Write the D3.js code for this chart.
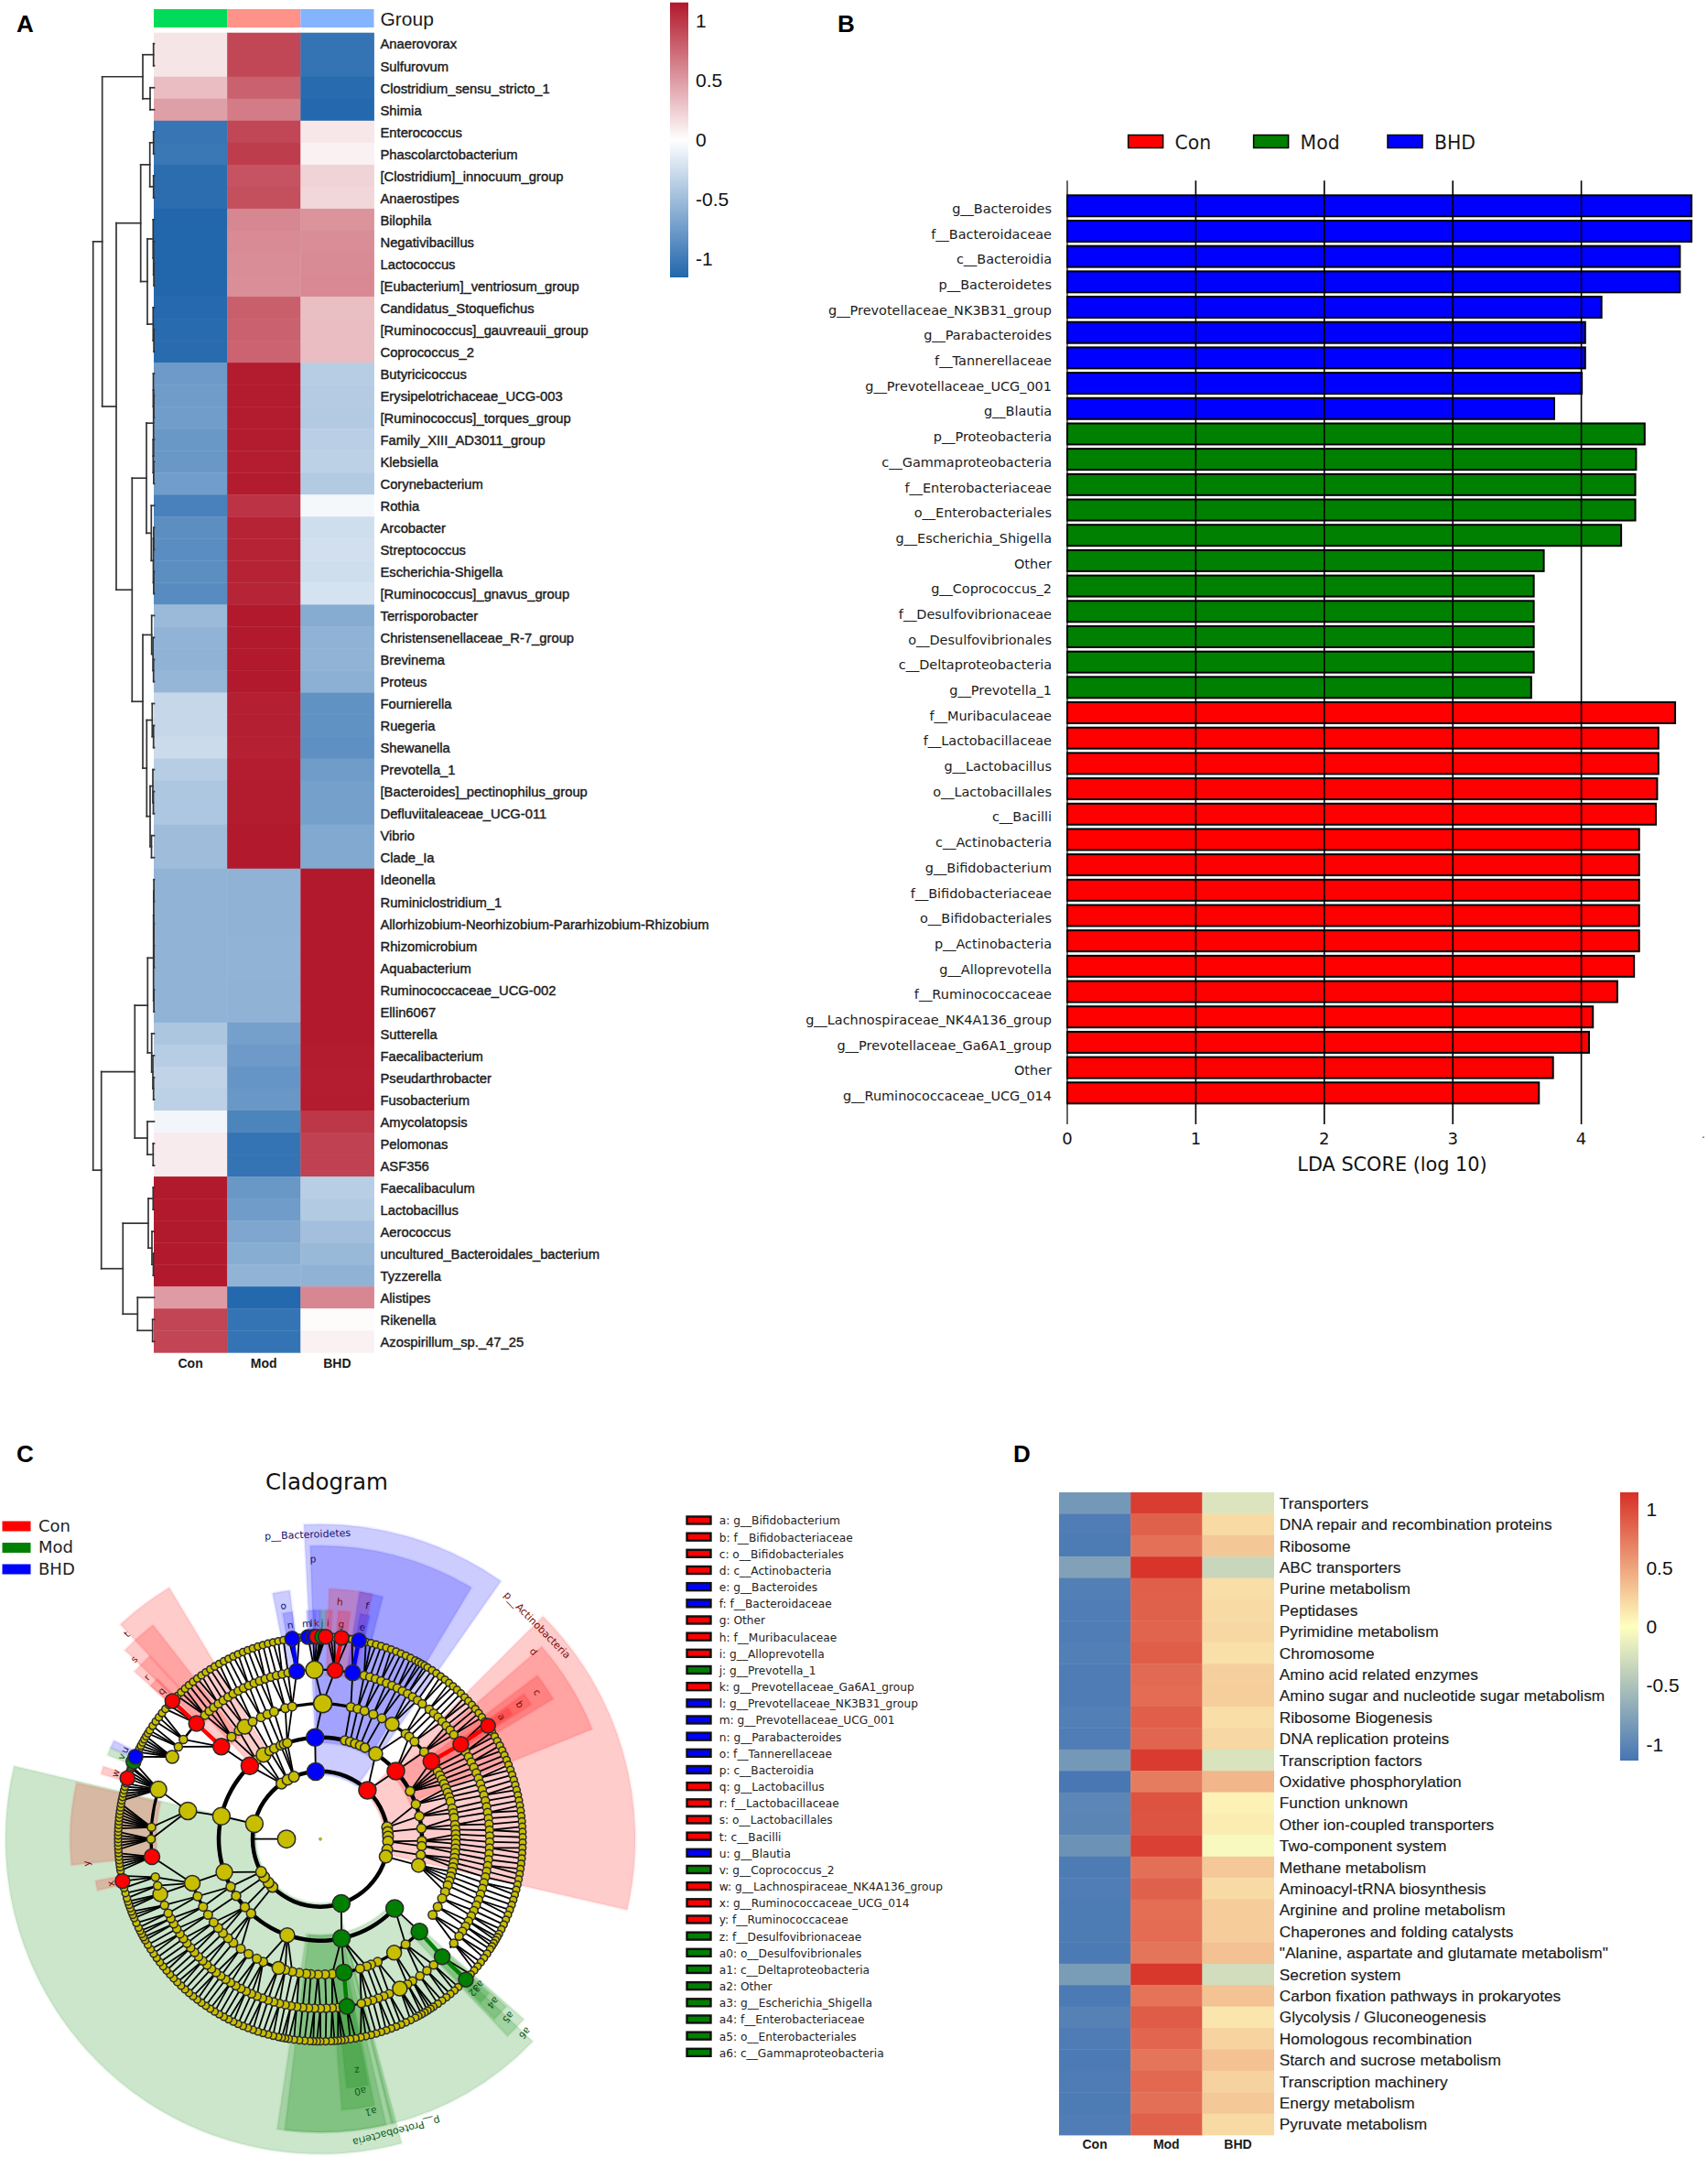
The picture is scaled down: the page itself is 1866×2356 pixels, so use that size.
<!DOCTYPE html>
<html><head><meta charset="utf-8">
<script src="https://cdn.jsdelivr.net/npm/d3@7/dist/d3.min.js"></script>
<style>html,body{margin:0;padding:0;background:#fff}svg{display:block}</style></head>
<body><svg id="c" width="1866" height="2356"></svg>
<script>
// ---------- Panel A data ----------
const groupsA = ["Con","Mod","BHD"];
const taxaA = ["Anaerovorax","Sulfurovum","Clostridium_sensu_stricto_1","Shimia","Enterococcus","Phascolarctobacterium","[Clostridium]_innocuum_group","Anaerostipes","Bilophila","Negativibacillus","Lactococcus","[Eubacterium]_ventriosum_group","Candidatus_Stoquefichus","[Ruminococcus]_gauvreauii_group","Coprococcus_2","Butyricicoccus","Erysipelotrichaceae_UCG-003","[Ruminococcus]_torques_group","Family_XIII_AD3011_group","Klebsiella","Corynebacterium","Rothia","Arcobacter","Streptococcus","Escherichia-Shigella","[Ruminococcus]_gnavus_group","Terrisporobacter","Christensenellaceae_R-7_group","Brevinema","Proteus","Fournierella","Ruegeria","Shewanella","Prevotella_1","[Bacteroides]_pectinophilus_group","Defluviitaleaceae_UCG-011","Vibrio","Clade_Ia","Ideonella","Ruminiclostridium_1","Allorhizobium-Neorhizobium-Pararhizobium-Rhizobium","Rhizomicrobium","Aquabacterium","Ruminococcaceae_UCG-002","Ellin6067","Sutterella","Faecalibacterium","Pseudarthrobacter","Fusobacterium","Amycolatopsis","Pelomonas","ASF356","Faecalibaculum","Lactobacillus","Aerococcus","uncultured_Bacteroidales_bacterium","Tyzzerella","Alistipes","Rikenella","Azospirillum_sp._47_25"];
const conA = [.13,.13,.33,.48,-1.04,-1.03,-1.1,-1.1,-1.15,-1.15,-1.15,-1.15,-1.13,-1.12,-1.12,-.76,-.75,-.74,-.78,-.78,-.74,-.95,-.85,-.86,-.85,-.87,-.52,-.57,-.58,-.55,-.3,-.3,-.27,-.38,-.42,-.42,-.5,-.5,-.57,-.57,-.57,-.57,-.57,-.57,-.57,-.43,-.38,-.33,-.35,-.07,.1,.1,1.15,1.15,1.15,1.15,1.15,.5,.93,.93];
const modA = [.92,.92,.79,.66,.92,.97,.86,.88,.6,.58,.57,.56,.8,.79,.78,1.14,1.14,1.14,1.14,1.13,1.14,1.02,1.1,1.1,1.1,1.09,1.15,1.15,1.15,1.15,1.12,1.12,1.11,1.13,1.14,1.14,1.15,1.15,-.58,-.58,-.58,-.57,-.57,-.58,-.58,-.72,-.76,-.8,-.78,-.93,-1.05,-1.05,-.78,-.75,-.67,-.62,-.57,-1.14,-1.05,-1.05];
const bhdA = [-1.05,-1.05,-1.12,-1.14,.12,.07,.22,.2,.54,.57,.58,.59,.32,.33,.33,-.38,-.39,-.4,-.36,-.35,-.4,-.05,-.25,-.24,-.25,-.22,-.63,-.58,-.57,-.6,-.82,-.82,-.84,-.75,-.72,-.72,-.65,-.65,1.15,1.15,1.15,1.15,1.15,1.15,1.15,1.15,1.14,1.13,1.14,1.0,.95,.95,-.37,-.4,-.48,-.53,-.58,.6,.02,.07];
const ticksA = [1,.5,0,-.5,-1];
// dendrogram: [merge height, left, right]; plain numbers are row numbers
const dendroA = [66.8,
 [56.8,
  [12.5,[.8,1,2],[4.5,3,4]],
  [41.5,
   [14.8,[4.8,[.8,5,6],[.8,7,8]],[7.5,[1.2,9,[.8,10,[.4,11,12]]],[1.2,13,[.4,14,15]]]],
   [24.2,
    [8.5,[.8,[1,16,[.5,17,18]],[1.2,19,[.6,20,21]]],[3.2,22,[1,[.6,23,24],[.6,25,26]]]],
    [12.5,[2.8,27,[1.4,28,[.8,29,30]]],[8.2,[2.2,31,[.8,32,33]],[4.5,[1.5,34,[1,35,36]],[3,37,38]]]]]]],
 [57.8,
  [21.2,
   [7.2,[.8,[.6,[.4,39,40],[.5,41,[.3,42,43]]],[.4,44,45]],[2.8,46,[1.5,47,[.8,48,49]]]],
   [7.5,50,[1.2,51,52]]],
  [34.2,
   [6.5,[1.2,53,54],[2.5,55,[1,56,57]]],
   [18.2,58,[1.8,59,60]]]]];

// ---------- Panel B data ----------
const featuresB = ["g__Bacteroides","f__Bacteroidaceae","c__Bacteroidia","p__Bacteroidetes","g__Prevotellaceae_NK3B31_group","g__Parabacteroides","f__Tannerellaceae","g__Prevotellaceae_UCG_001","g__Blautia","p__Proteobacteria","c__Gammaproteobacteria","f__Enterobacteriaceae","o__Enterobacteriales","g__Escherichia_Shigella","Other","g__Coprococcus_2","f__Desulfovibrionaceae","o__Desulfovibrionales","c__Deltaproteobacteria","g__Prevotella_1","f__Muribaculaceae","f__Lactobacillaceae","g__Lactobacillus","o__Lactobacillales","c__Bacilli","c__Actinobacteria","g__Bifidobacterium","f__Bifidobacteriaceae","o__Bifidobacteriales","p__Actinobacteria","g__Alloprevotella","f__Ruminococcaceae","g__Lachnospiraceae_NK4A136_group","g__Prevotellaceae_Ga6A1_group","Other","g__Ruminococcaceae_UCG_014"];
const scoresB = [4.857,4.857,4.767,4.767,4.157,4.03,4.03,4.004,3.789,4.493,4.426,4.42,4.42,4.31,3.708,3.63,3.63,3.63,3.63,3.61,4.73,4.6,4.6,4.59,4.58,4.45,4.45,4.45,4.45,4.45,4.41,4.28,4.09,4.06,3.78,3.67];
const classB = ["BHD","BHD","BHD","BHD","BHD","BHD","BHD","BHD","BHD","Mod","Mod","Mod","Mod","Mod","Mod","Mod","Mod","Mod","Mod","Mod","Con","Con","Con","Con","Con","Con","Con","Con","Con","Con","Con","Con","Con","Con","Con","Con"];
const ticksB = [0,1,2,3,4];
const classNames = ["Con","Mod","BHD"];

// ---------- Panel C data (angles in degrees clockwise from 12 o'clock) ----------
const ring1 = [80,84,88,92,99,105,225,230,236,241,283,325,331,337];
const ring2 = [14,17,20,23,26,33,62,70,77,84,91,94,99,105,199,223,228,236,242,251,283,321,326,330,333,337,339,341];
const ring3 = [1,13,16,19,23,27,32,39,41,44,50,58,60,62,64,66,68,70,72,74,77,79,81,84,86,88,90,92,94,96,98,100,102,104,106,108,110,113,116,120,124,141,147,155,158,160,163,175,178,181,184,186,189,192,195,198,205,208,212,216,220,223,226,229,232,236,240,245,251,282,319,323,326,330,334,337,340,345,348];
const ring4 = [358,15,17,19,21,23,25,27,29,31,33,35,37,40,42,44,46,48,50,52,59,61,63,65,67,69,71,73,75,77,79,81,83,85,87,89,91,93,95,97,99,101,103,105,107,109,111,113,115,117,119,121,123,125,128,138,141,144,147,149,152,156,158,160,162,164,166,174,176,178,180,182,184,186,188,190,192,194,196,198,200,202,204,206,208,210,212,214,216,218,220,222,224,226,228,230,232,234,236,238,240,242,244,247,251,254,257,270,274,287,299,303,306,317,319,321,323,325,327,329,331,333,335,337,339,341,343,345,347,349];
const ring5 = [0,1,2,3,4,8,9,13,14.5,16,17.5,19,20.5,22,23.5,25,26.5,28,29,30,31,32,33.5,35,36.5,38,39.5,41,42.5,44,45.5,47,48.5,50,51.5,53,54.5,58,59.5,61,62.5,64,65.5,67,68.5,70,71.5,73,74.5,76,77.5,79,80.5,82,83.5,85,86.5,88,89.5,91,92.5,94,95.5,97,98.5,100,101.5,103,104.5,106,107.5,109,110.5,112,113.5,115,116.5,118,119,120,121,122,123,124.5,126,127.5,129,130.5,132,137,138.5,140,141.5,143,144.5,146,147,148,149,150,151,152,153.5,155,156.5,158,159.5,161,162.5,164,165.5,167,168.5,170,171.5,173,174,175,176,177,178.5,180,181,182,183,184.5,186,187.5,189,190,191,192,193.5,195,196.5,198,199.5,201,202.5,204,205.5,207,208.5,210,211.5,213,214.5,216,217.5,219,220.5,222,223.5,225,226.5,228,229.5,231,232.5,234,235.5,237,238.5,240,241,242,243,244,245.5,247,248,249,250,251,252,253,254.5,256,259.5,261,262,263,264,265,266,267,268,269,270,271,272,273,274,275,276,277,278,279,280,281,282,283,284,285,286,288.5,289.5,290.5,291,295.5,296.5,297.5,298.5,299.5,300.5,301.5,302.5,304,305.5,307,308.5,310,311.5,315,316.5,318,319.5,321,322.5,324,325.5,327,328.5,330,331.5,333,334.5,336,337.5,339,340.5,342,343.5,345,346.5,348,349.5,351,354];
const yellowRings = [ring1,ring2,ring3,ring4,ring5];
// coloured biomarkers: [level, angle, class]
const biomarkers = [[1,356,"BHD"],[1,44,"Con"],[1,162,"Mod"],[2,357,"BHD"],[2,48,"Con"],[2,133,"Mod"],[2,168,"Mod"],[2,316,"Con"],[3,55,"Con"],[3,133,"Mod"],[3,170,"Mod"],[3,313,"Con"],[4,352,"BHD"],[4,5,"Con"],[4,11,"BHD"],[4,56,"Con"],[4,134,"Mod"],[4,171,"Mod"],[4,264,"Con"],[4,313,"Con"],[5,352,"BHD"],[5,356.5,"BHD"],[5,358,"BHD"],[5,359,"Con"],[5,.5,"Mod"],[5,1.5,"Con"],[5,6,"Con"],[5,11,"BHD"],[5,56,"Con"],[5,134,"Mod"],[5,258,"Con"],[5,287.5,"Con"],[5,292.5,"Mod"],[5,294,"BHD"],[5,313,"Con"]];
// larger yellow nodes: [level, angle, size]
const largeNodes = [[1,283,9.5],[2,283,9.5],[3,282,9.5],[4,287,9],[2,326,8],[3,326,8],[1,105,7],[2,105,7.5],[2,33,7.5],[3,32,7.5],[3,1,10],[4,358,9.5],[2,251,9],[3,251,8.5],[4,251,8],[2,199,8],[3,198,7],[3,147,8],[4,152,8],[4,299,7]];
// shaded clades: [from angle, to angle, level, class]
const cladeWedges = [[-3,35,1,"BHD"],[-2,31,2,"BHD"],[45,103,1,"Con"],[49,68,2,"Con"],[53,59,3,"Con"],[54.5,57.5,4,"Con"],[55,57,5,"Con"],[165,283.4,1,"Mod"],[133.6,166,2,"Mod"],[165.5,188.5,2,"Mod"],[167,187,2,"Mod"],[168.5,175.5,3,"Mod"],[169,174,4,"Mod"],[131.5,136.5,3,"Mod"],[132,136,4,"Mod"],[132.5,135.5,5,"Mod"],[264,283,4,"Con"],[317,329,2,"Con"],[314,322,3,"Con"],[312,317,4,"Con"],[312,314.5,5,"Con"],[2,12,4,"Con"],[4.5,7.5,5,"Con"],[-11,-7,4,"BHD"],[9,14.5,4,"BHD"],[-3.5,-1.5,5,"BHD"],[-1.5,0,5,"BHD"],[0,1.5,5,"Mod"],[1.5,3,5,"Con"],[-9.5,-7,5,"BHD"],[10,12.5,5,"BHD"],[257,259.5,5,"Con"],[286.5,288.5,5,"Con"],[291.5,293.5,5,"Mod"],[293.5,295.5,5,"BHD"]];
// clade labels: [text, angle, radius, class]
const cladeLabels = [["p__Bacteroidetes",-2.4,333,"BHD"],["p__Actinobacteria",45.4,333,"Con"],["p__Proteobacteria",165.4,330,"Mod"],["a6",133.5,308,"Mod"],["a5",133.5,283,"Mod"],["a4",133.5,260,"Mod"],["a3",133,236,"Mod"],["a2",134.5,236,"Mod"],["a1",169.5,303,"Mod"],["a0",171,279,"Mod"],["z",171,256,"Mod"],["y",264,257,"Con"],["x",258,234,"Con"],["w",287.8,235,"Con"],["v",292.5,235,"Mod"],["u",294.5,235,"BHD"],["t",316.6,308,"Con"],["s",314,283,"Con"],["r",313,259,"Con"],["q",313,237,"Con"],["p",-1.5,306,"BHD"],["o",-9,258,"BHD"],["n",-8,236,"BHD"],["m",-3.6,236,"BHD"],["l",-2.4,236,"BHD"],["k",-1,236,"Con"],["j",.5,236,"Mod"],["i",2,236,"Con"],["h",4.7,260,"Con"],["g",5.6,236,"Con"],["f",11.3,260,"BHD"],["e",11.2,236,"BHD"],["d",48.7,310,"Con"],["c",55.9,286,"Con"],["b",56,263,"Con"],["a",56,239,"Con"]];
const cladeKey = ["a: g__Bifidobacterium","b: f__Bifidobacteriaceae","c: o__Bifidobacteriales","d: c__Actinobacteria","e: g__Bacteroides","f: f__Bacteroidaceae","g: Other","h: f__Muribaculaceae","i: g__Alloprevotella","j: g__Prevotella_1","k: g__Prevotellaceae_Ga6A1_group","l: g__Prevotellaceae_NK3B31_group","m: g__Prevotellaceae_UCG_001","n: g__Parabacteroides","o: f__Tannerellaceae","p: c__Bacteroidia","q: g__Lactobacillus","r: f__Lactobacillaceae","s: o__Lactobacillales","t: c__Bacilli","u: g__Blautia","v: g__Coprococcus_2","w: g__Lachnospiraceae_NK4A136_group","x: g__Ruminococcaceae_UCG_014","y: f__Ruminococcaceae","z: f__Desulfovibrionaceae","a0: o__Desulfovibrionales","a1: c__Deltaproteobacteria","a2: Other","a3: g__Escherichia_Shigella","a4: f__Enterobacteriaceae","a5: o__Enterobacteriales","a6: c__Gammaproteobacteria"];
const cladeKeyClass = ["Con","Con","Con","Con","BHD","BHD","Con","Con","Con","Mod","Con","BHD","BHD","BHD","BHD","BHD","Con","Con","Con","Con","BHD","Mod","Con","Con","Con","Mod","Mod","Mod","Mod","Mod","Mod","Mod","Mod"];

// ---------- Panel D data ----------
const pathwaysD = ["Transporters","DNA repair and recombination proteins","Ribosome","ABC transporters","Purine metabolism","Peptidases","Pyrimidine metabolism","Chromosome","Amino acid related enzymes","Amino sugar and nucleotide sugar metabolism","Ribosome Biogenesis","DNA replication proteins","Transcription factors","Oxidative phosphorylation","Function unknown","Other ion-coupled transporters","Two-component system","Methane metabolism","Aminoacyl-tRNA biosynthesis","Arginine and proline metabolism","Chaperones and folding catalysts","\"Alanine, aspartate and glutamate metabolism\"","Secretion system","Carbon fixation pathways in prokaryotes","Glycolysis / Gluconeogenesis","Homologous recombination","Starch and sucrose metabolism","Transcription machinery","Energy metabolism","Pyruvate metabolism"];
const conD = [-.85,-1.07,-1.09,-.78,-1.06,-1.07,-1.07,-1.06,-1.08,-1.08,-1.06,-1.07,-.85,-1.12,-1,-1.01,-.9,-1.09,-1.07,-1.09,-1.09,-1.1,-.82,-1.1,-1.04,-1.08,-1.1,-1.08,-1.09,-1.07];
const modD = [1.07,.87,.78,1.12,.88,.87,.85,.89,.82,.81,.88,.85,1.08,.72,.95,.94,1.05,.79,.87,.8,.81,.76,1.1,.77,.9,.84,.76,.83,.79,.87];
const bhdD = [-.22,.2,.31,-.34,.18,.2,.22,.17,.26,.27,.18,.22,-.23,.4,.07,.1,-.05,.3,.2,.28,.28,.34,-.28,.33,.14,.24,.34,.25,.3,.2];
const ticksD = [1,.5,0,-.5,-1];

// ---------- drawing ----------
const svg = d3.select("#c");
const sans = "'Liberation Sans',Arial,sans-serif", dejavu = "'DejaVu Sans',sans-serif";
const classColor = d3.scaleOrdinal(classNames,["#ff0000","#008000","#0000ff"]);
const labelColor = d3.scaleOrdinal(classNames,["#7a0d0d","#0d5a1a","#101070"]);
function panelLabel(t,x,y){svg.append("text").attr("x",x).attr("y",y).text(t).attr("font-family",sans).attr("font-weight","bold").attr("font-size",26).attr("fill","#000");}
function gradient(id,stops){
  const g=svg.append("linearGradient").attr("id",id).attr("x1",0).attr("x2",0).attr("y1",1).attr("y2",0);
  stops.forEach((c,i)=>g.append("stop").attr("offset",i/(stops.length-1)).attr("stop-color",c));
}
function heat(g,opt){
  const {rows,cols,vals,color,x0,x1,y0,y1,labelX,size,thick,labelGap,labelDy}=opt;
  const x=d3.scaleBand(cols,[x0,x1]), y=d3.scaleBand(d3.range(rows.length),[y0,y1]);
  cols.forEach((c,ci)=>{
    g.append("g").selectAll("rect").data(vals[ci]).join("rect")
      .attr("x",x(c)).attr("width",x.bandwidth()+.4)
      .attr("y",(d,i)=>y(i)).attr("height",y.bandwidth()+.4)
      .attr("fill",d=>color(d));
  });
  g.append("g").selectAll("text").data(rows).join("text")
    .attr("x",labelX).attr("y",(d,i)=>y(i)+y.bandwidth()/2+labelDy).attr("dy",".35em").text(d=>d)
    .attr("font-family",sans).attr("font-size",size).attr("fill","#1a1a1a").attr("stroke","#1a1a1a").attr("stroke-width",thick);
  g.append("g").selectAll("text").data(cols).join("text")
    .attr("x",d=>x(d)+x.bandwidth()/2).attr("y",y1+labelGap).attr("text-anchor","middle").attr("dy",".35em").text(d=>d)
    .attr("font-family",sans).attr("font-size",14).attr("font-weight","bold").attr("fill","#1a1a1a");
  return {x,y};
}
function colorbar(id,stops,domain,ticks,x0,x1,y0,y1,tx,size){
  gradient(id,stops);
  svg.append("rect").attr("x",x0).attr("y",y0).attr("width",x1-x0).attr("height",y1-y0).attr("fill",`url(#${id})`);
  const s=d3.scaleLinear(domain,[y1,y0]);
  svg.append("g").selectAll("text").data(ticks).join("text").attr("x",tx).attr("y",d=>s(d)).attr("dy",".36em").text(d=>d)
    .attr("font-family",sans).attr("font-size",size).attr("fill","#111");
}

// Panel A
panelLabel("A",18,35);
const colorA = d3.scaleLinear([-1.155,0,1.155],["#2166AC","#FFFFFF","#B2182B"]);
const gA = svg.append("g");
const hA = heat(gA,{rows:taxaA,cols:groupsA,vals:[conA,modA,bhdA],color:colorA,x0:168,x1:408.5,y0:35.7,y1:1477.3,labelX:415.5,size:14.75,thick:.4,labelGap:12,labelDy:.6});
gA.append("g").selectAll("rect").data(groupsA).join("rect").attr("x",d=>hA.x(d)).attr("width",hA.x.bandwidth()).attr("y",10).attr("height",20)
  .attr("fill",d3.scaleOrdinal(groupsA,["#00DC5A","#FF9289","#85B4FF"]));
gA.append("text").attr("x",415.5).attr("y",20).attr("dy",".36em").text("Group").attr("font-family",sans).attr("font-size",21).attr("fill","#1a1a1a");
colorbar("cbA",["#2166AC","#FFFFFF","#B2182B"],[-1.155,1.155],ticksA,732,752,2.7,303,760,21);
// dendrogram
const dx = d3.scaleLinear([0,66.8],[168.5,101.7]);
const dLines = [];
(function walk(n){
  if(typeof n==="number") return {y:hA.y(n-1)+hA.y.bandwidth()/2,h:0};
  const a=walk(n[1]), b=walk(n[2]);
  dLines.push([[dx(n[0]),a.y],[dx(n[0]),b.y]],[[dx(n[0]),a.y],[dx(a.h),a.y]],[[dx(n[0]),b.y],[dx(b.h),b.y]]);
  return {y:(a.y+b.y)/2,h:n[0]};
})(dendroA);
gA.append("g").selectAll("path").data(dLines).join("path").attr("d",d3.line()).attr("fill","none").attr("stroke","#333").attr("stroke-width",1.7).attr("stroke-linecap","square");

// Panel B
panelLabel("B",915,35);
const gB = svg.append("g");
const xB = d3.scaleLinear([0,4],[1166,1727.6]);
const yB = d3.scaleBand(d3.range(featuresB.length),[213.3-2.35,1205.3+2.35]).paddingInner(.17).paddingOuter(.085);
gB.append("g").selectAll("rect").data(scoresB).join("rect").attr("x",xB(0)).attr("y",(d,i)=>yB(i)).attr("height",yB.bandwidth()).attr("width",d=>xB(d)-xB(0))
  .attr("fill",(d,i)=>classColor(classB[i])).attr("stroke","#000").attr("stroke-width",2);
gB.append("g").selectAll("line").data(ticksB).join("line").attr("x1",d=>xB(d)).attr("x2",d=>xB(d)).attr("y1",197.3).attr("y2",1228).attr("stroke","#000").attr("stroke-width",d=>d?1.6:1.2);
gB.append("g").selectAll("text").data(ticksB).join("text").attr("x",d=>xB(d)).attr("y",1244).attr("dy",".36em").attr("text-anchor","middle").text(d=>d)
  .attr("font-family",dejavu).attr("font-size",18).attr("fill","#111");
gB.append("text").attr("x",1521).attr("y",1272).attr("dy",".36em").attr("text-anchor","middle").text("LDA SCORE (log 10)").attr("font-family",dejavu).attr("font-size",20.8).attr("fill","#111");
gB.append("text").attr("x",1859).attr("y",1243).text(".").attr("font-family",dejavu).attr("font-size",12).attr("fill","#333");
gB.append("g").selectAll("text").data(featuresB).join("text").attr("x",1149).attr("y",(d,i)=>yB(i)+yB.bandwidth()/2+3).attr("dy",".36em").attr("text-anchor","end").text(d=>d)
  .attr("font-family",dejavu).attr("font-size",14.45).attr("fill","#1a1a1a");
const legB = gB.append("g").selectAll("g").data(classNames).join("g");
const legBx = d3.scaleOrdinal(classNames,[1232.6,1369.6,1516]);
legB.append("rect").attr("x",d=>legBx(d)).attr("y",147.5).attr("width",38).attr("height",14).attr("fill",d=>classColor(d)).attr("stroke","#000").attr("stroke-width",1.5);
legB.append("text").attr("x",d=>legBx(d)+51).attr("y",156).attr("dy",".36em").text(d=>d).attr("font-family",dejavu).attr("font-size",20.4).attr("fill","#1a1a1a");

// Panel C
panelLabel("C",18,1597);
const gC = svg.append("g").attr("transform","translate(350,2008.7)");
svg.append("text").attr("x",357).attr("y",1618).attr("dy",".36em").attr("text-anchor","middle").text("Cladogram").attr("font-family",dejavu).attr("font-size",24.5).attr("fill","#111");
const rad = d=>d*Math.PI/180;
const rOf = d3.scaleOrdinal([1,2,3,4,5],[74,111,148,185,221]);
const wedgeOuter = d3.scaleLinear([1,5],[344,250]);
const wArc = d3.arc();
gC.append("g").selectAll("path").data(cladeWedges).join("path")
  .attr("d",d=>wArc({innerRadius:rOf(d[2])-(d[2]===1?4:6),outerRadius:wedgeOuter(d[2]),startAngle:rad(d[0]),endAngle:rad(d[1])}))
  .attr("fill",d=>classColor(d[3])).attr("fill-opacity",.2).attr("stroke",d=>classColor(d[3])).attr("stroke-opacity",.06).attr("stroke-width",3);
const norm = a=>(a+360)%360;
const angDist = (a,b)=>{const d=Math.abs(norm(a)-norm(b));return Math.min(d,360-d);};
const nodes = [];
yellowRings.forEach((arr,i)=>arr.forEach(a=>nodes.push({level:i+1,a,cls:null})));
biomarkers.forEach(b=>nodes.push({level:b[0],a:b[1],cls:b[2]}));
// [level, from, to, thickness]
const levelArcs = [[1,0,360,4.5],[2,133,465,4.5],[3,133,251,3.5],[3,313,484,3.2],[4,264,287,3.2],[4,299,313,2.5],[4,313,352,2.2],[4,352,490,2.2],[4,134,251,2.2],[5,0,360,2]];
gC.append("g").selectAll("path").data(levelArcs).join("path")
  .attr("d",d=>wArc({innerRadius:rOf(d[0])-d[3]/2,outerRadius:rOf(d[0])+d[3]/2,startAngle:rad(d[1]),endAngle:rad(d[2])})).attr("fill","#000");
const edgeLimit = {2:16,3:8,4:13,5:13};
const edges = [];
nodes.filter(n=>n.level>1).forEach(n=>{
  const ps = nodes.filter(p=>p.level===n.level-1);
  const p = d3.least(ps,q=>angDist(q.a,n.a));
  if(angDist(p.a,n.a)<=edgeLimit[n.level]) edges.push({s:p,t:n});
});
const isMarked = e=>e.t.cls&&e.s.cls&&e.t.level>=4&&e.t.cls===e.s.cls;
edges.sort((u,v)=>(isMarked(u)?1:0)-(isMarked(v)?1:0));
const pt = n=>d3.pointRadial(rad(n.a),rOf(n.level));
gC.append("g").selectAll("line").data(edges).join("line")
  .attr("x1",d=>pt(d.s)[0]).attr("y1",d=>pt(d.s)[1]).attr("x2",d=>pt(d.t)[0]).attr("y2",d=>pt(d.t)[1])
  .attr("stroke",d=>isMarked(d)?classColor(d.t.cls):"#000").attr("stroke-width",d=>isMarked(d)?4.5:1.8);
const kingdom = d3.pointRadial(rad(270),37), kingdomEnd = d3.pointRadial(rad(270),74);
gC.append("line").attr("x1",kingdom[0]).attr("y1",kingdom[1]).attr("x2",kingdomEnd[0]).attr("y2",kingdomEnd[1]).attr("stroke","#000").attr("stroke-width",1.8);
const yellow = "#C8BE00";
const baseR = {1:5.8,2:5,3:4.8,4:4.5,5:3.9}, markR = {1:9.5,2:9.5,3:9,4:8.5,5:8};
const sizeOf = n=>{
  if(n.cls) return markR[n.level];
  const b=largeNodes.find(l=>l[0]===n.level&&l[1]===n.a);
  return b?b[2]:baseR[n.level];
};
nodes.sort((u,v)=>(u.cls?1:0)-(v.cls?1:0));
gC.append("g").selectAll("circle").data(nodes).join("circle")
  .attr("cx",d=>pt(d)[0]).attr("cy",d=>pt(d)[1]).attr("r",sizeOf)
  .attr("fill",d=>d.cls?classColor(d.cls):yellow).attr("stroke","#2a2a2a").attr("stroke-width",1.5);
gC.append("circle").attr("cx",kingdom[0]).attr("cy",kingdom[1]).attr("r",9.7).attr("fill",yellow).attr("stroke","#2a2a2a").attr("stroke-width",1.5);
gC.append("circle").attr("r",1.6).attr("fill",yellow).attr("stroke","#777").attr("stroke-width",.5);
gC.append("g").selectAll("text").data(cladeLabels).join("text")
  .attr("transform",d=>{const p=d3.pointRadial(rad(d[1]),d[2]);return `translate(${p[0]},${p[1]}) rotate(${d[1]})`;})
  .attr("text-anchor","middle").attr("dy",".35em").text(d=>d[0])
  .attr("font-family",dejavu).attr("font-size",d=>d[0].length>2?11:10.5).attr("fill",d=>labelColor(d[3]));
const legC = svg.append("g").selectAll("g").data(classNames).join("g");
const legCy = d3.scaleOrdinal(classNames,[1667,1690.5,1714]);
legC.append("rect").attr("x",2.5).attr("y",d=>legCy(d)-5.5).attr("width",31).attr("height",11).attr("fill",d=>classColor(d));
legC.append("text").attr("x",42).attr("y",d=>legCy(d)-.5).attr("dy",".36em").text(d=>d).attr("font-family",dejavu).attr("font-size",18).attr("fill","#222");
const keyY = d3.scaleLinear([0,cladeKey.length-1],[1660.5,2241.8]);
const gK = svg.append("g");
gK.append("g").selectAll("rect").data(cladeKey).join("rect").attr("x",750.5).attr("y",(d,i)=>keyY(i)-4).attr("width",26).attr("height",8)
  .attr("fill",(d,i)=>classColor(cladeKeyClass[i])).attr("stroke","#111").attr("stroke-width",2.4);
gK.append("g").selectAll("text").data(cladeKey).join("text").attr("x",785.7).attr("y",(d,i)=>keyY(i)+.5).attr("dy",".36em").text(d=>d)
  .attr("font-family",dejavu).attr("font-size",12.2).attr("fill","#222");

// Panel D
panelLabel("D",1107,1597);
const stopsD = ["#4575B4","#FFFFBF","#D73027"];
const colorD = d3.scaleLinear([-1.14,0,1.14],stopsD);
heat(svg.append("g"),{rows:pathwaysD,cols:groupsA,vals:[conD,modD,bhdD],color:colorD,x0:1157,x1:1391.6,y0:1630,y1:2332,labelX:1397.8,size:17.3,thick:.15,labelGap:10,labelDy:0});
colorbar("cbD",stopsD,[-1.14,1.14],ticksD,1770,1790,1630,1923,1798.4,21);
</script></body></html>
